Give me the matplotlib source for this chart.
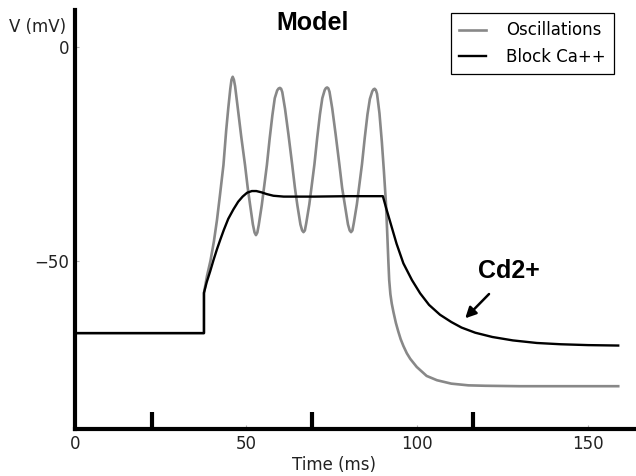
import matplotlib
matplotlib.use('Agg')
import matplotlib.pyplot as plt

# Oscillations trace (grey)
osc_t = [0, 37.7, 37.7, 38.6, 39.6, 40.6, 41.5, 42.4, 43.4, 44.2, 44.8, 45.4, 45.75, 46.1,
         46.45, 46.8, 47.6, 48.6, 49.7, 50.5, 51.2, 52.0, 52.5, 52.9, 53.3, 53.7, 54.6, 55.4, 56.1,
         56.9, 57.7, 58.4, 59.1, 59.5, 59.9, 60.25, 60.6, 61.4, 62.4, 63.5, 64.3, 65.0, 65.9,
         66.4, 66.8, 67.2, 67.6, 68.5, 69.3, 70.0, 70.8, 71.6, 72.3, 73.0, 73.35, 73.7, 74.05,
         74.4, 75.2, 76.2, 77.3, 78.1, 78.9, 79.8, 80.3, 80.7, 81.1, 81.5, 82.4, 83.2, 83.9,
         84.7, 85.5, 86.2, 86.9, 87.25, 87.6, 87.95, 88.3, 89.0, 89.7, 90.3, 90.9, 91.3, 91.6,
         91.85, 92.2, 92.6, 93.1, 93.8, 94.5, 95.2, 96.0, 97.0, 98.0, 99.9, 102.8, 105.8,
         110, 115, 120, 130, 145, 158.8]
osc_v = [-66.9, -66.9, -57.5, -53.5, -50.0, -45.5, -40.5, -34.5, -27.6, -19.5, -14.4, -9.8, -7.7, -7.0,
         -7.7, -9.2, -14.4, -21.0, -27.6, -33.0, -37.0, -41.5, -43.4, -44.0, -43.4, -41.7, -37.0, -32.0, -27.6,
         -21.5, -16.0, -12.0, -10.2, -9.75, -9.6, -9.8, -10.6, -14.5, -20.5, -27.6, -33.0, -37.0, -41.5,
         -42.9, -43.3, -42.9, -41.2, -36.8, -31.8, -27.4, -21.3, -15.8, -12.0, -10.1, -9.65, -9.5, -9.7,
         -10.5, -14.4, -20.5, -27.6, -33.0, -37.0, -41.5, -42.9, -43.3, -42.9, -41.2, -36.8, -31.8, -27.4,
         -21.3, -15.8, -12.2, -10.4, -9.95, -9.8, -10.1, -11.0, -15.5, -22.2, -29.0, -36.5, -44.0, -50.0,
         -54.5, -57.8, -60.0, -62.0, -64.5, -66.5, -68.3, -69.9, -71.6, -72.9, -74.8, -76.9, -77.9,
         -78.7, -79.1, -79.2, -79.3, -79.3, -79.3]

# Block Ca++ trace (black)
blk_t = [0, 37.7, 37.7, 38.5, 39.5, 40.5, 41.5, 42.5, 43.5, 44.8, 46.3, 47.7, 49.0,
         50.3, 51.7, 53.0, 54.5, 56.0, 58.0, 61.0, 70, 80, 90.0, 91.0, 92.1, 94.0,
         96.0, 98.5, 100.9, 103.5, 106.7, 110, 113, 117, 122, 128, 135, 142, 150, 158.8]
blk_v = [-66.9, -66.9, -57.5, -55.0, -52.5, -49.8, -47.3, -45.0, -42.8, -40.2, -38.0, -36.2, -35.0,
         -34.1, -33.7, -33.7, -34.0, -34.4, -34.8, -35.0, -35.0, -34.9, -34.9, -37.8, -40.8, -46.0,
         -50.6, -54.5, -57.6, -60.3, -62.6, -64.3, -65.6, -66.8, -67.8, -68.6, -69.2, -69.5, -69.7, -69.8]

xticks = [0, 50, 100, 150]
yticks = [0, -50]
bar_ticks = [22.4, 69.4, 116.4]

fig = plt.figure(figsize=(6.36, 4.76), dpi=100)
ax = fig.add_axes([75 / 636, 47 / 476, 561 / 636, 419 / 476])

ax.plot(osc_t, osc_v, color='#888888', lw=1.9, label='Oscillations')
ax.plot(blk_t, blk_v, color='black', lw=1.7, label='Block Ca++')

ax.set_xlim(0, 164)
ax.set_ylim(-89.3, 8.6)

for s in ['top', 'right']:
    ax.spines[s].set_visible(False)
for s in ['left', 'bottom']:
    ax.spines[s].set_linewidth(3)

ax.set_xticks(xticks)
ax.set_yticks(yticks)
ax.set_yticklabels(['0', '\u221250'])
ax.set_xticks(bar_ticks, minor=True)
ax.tick_params(which='major', direction='in', length=3, width=0.8, color='0.7',
               labelsize=12, pad=4, labelcolor='#222222')
ax.tick_params(axis='x', which='minor', direction='in', length=12.5, width=3, color='black')

ax.set_xlabel('Time (ms)', fontsize=12, va='center', color='#222222')
ax.xaxis.set_label_coords(334 / 636, 1 - 465 / 476, transform=fig.transFigure)
fig.text(38 / 636, 1 - 27 / 476, 'V (mV)', fontsize=12, ha='center', va='center', color='#222222')

fig.text(313 / 636, 1 - 23 / 476, 'Model', fontsize=18, fontweight='bold',
         family='Liberation Sans', ha='center', va='center')

ax.text(126.9, -52.4, 'Cd2+', fontsize=18, fontweight='bold', family='Liberation Sans',
        ha='center', va='center')
ax.annotate('', xy=(113.5, -63.9), xytext=(121.6, -57.3),
            arrowprops=dict(arrowstyle='-|>', lw=1.8, color='black', mutation_scale=16))

leg = ax.legend(loc='upper right', bbox_to_anchor=(614 / 636, 1 - 13 / 476),
                bbox_transform=fig.transFigure, fontsize=12, fancybox=False,
                edgecolor='black', framealpha=1, borderaxespad=0,
                handlelength=1.6, handletextpad=1.2, labelspacing=0.5, borderpad=0.5)
leg.get_frame().set_linewidth(0.9)

fig.savefig('out.png', dpi=100)
